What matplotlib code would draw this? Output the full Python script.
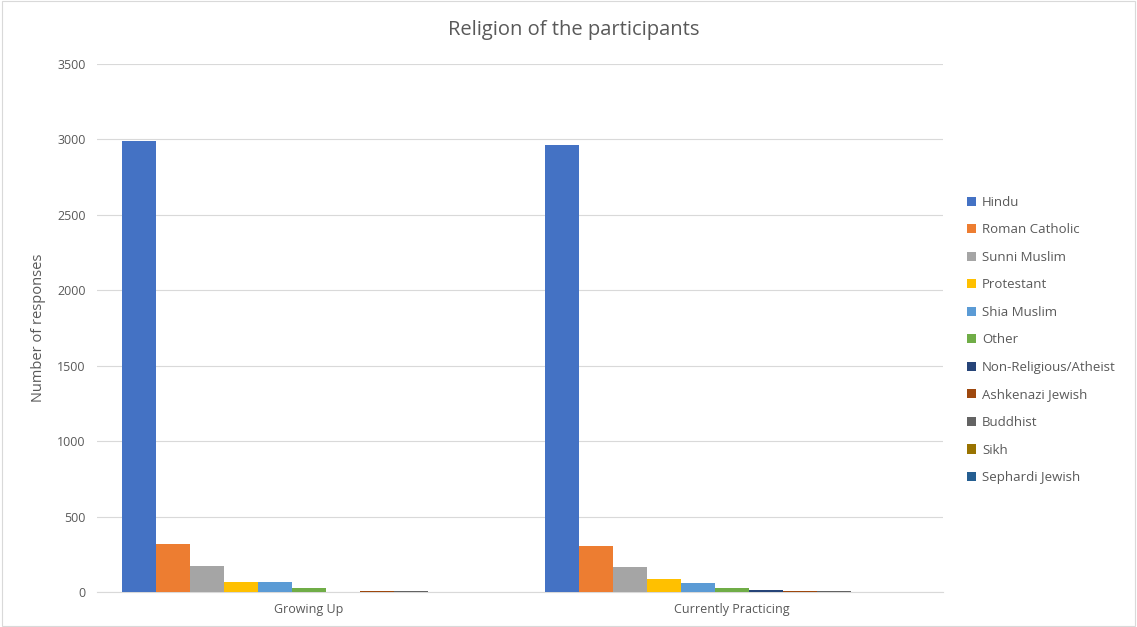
import numpy as np
import matplotlib.pyplot as plt
from matplotlib.patches import Rectangle

# data
groups = ['Growing Up', 'Currently Practicing']
religions = ['Hindu', 'Roman Catholic', 'Sunni Muslim', 'Protestant', 'Shia Muslim', 'Other',
             'Non-Religious/Atheist', 'Ashkenazi Jewish', 'Buddhist', 'Sikh', 'Sephardi Jewish']
growing_up = [2990, 318, 170, 64, 63, 25, 0, 4, 4, 1, 0]
currently = [2965, 305, 166, 84, 62, 25, 16, 4, 4, 1, 0]
colors = ['#4472C4', '#ED7D31', '#A5A5A5', '#FFC000', '#5B9BD5', '#70AD47',
          '#264478', '#9E480E', '#636363', '#997300', '#255E91']

plt.rcParams['font.family'] = ['Open Sans', 'DejaVu Sans']
txt = '#595959'

fig = plt.figure(figsize=(11.37, 6.27), dpi=100)
ax = fig.add_axes([97/1137, 1-592/627, (943-97)/1137, (592-64)/627])

values = np.array([growing_up, currently])
n = len(religions)
bw = 374/423/n
x = np.arange(len(groups))
for i, r in enumerate(religions):
    ax.bar(x - 374/423/2 + bw*(i+0.5), values[:, i], bw, color=colors[i], label=r, zorder=3)

ax.set_xlim(-0.5, 1.5)
ax.set_ylim(0, 3500)
ax.set_yticks(np.arange(0, 3501, 500))
ax.set_xticks(x)
ax.set_xticklabels(groups)
ax.grid(axis='y', color='#D9D9D9', linewidth=0.8, zorder=0)
for s in ['top', 'right', 'left']:
    ax.spines[s].set_visible(False)
ax.spines['bottom'].set_color('#D9D9D9')
ax.tick_params(axis='both', length=0, labelsize=9, colors=txt, pad=8)
ax.set_ylabel('Number of responses', fontsize=10.5, color=txt, labelpad=8)
fig.text(574/1137, 1-30/627, 'Religion of the participants', ha='center', va='center',
         fontsize=14.5, color=txt)

handles, labels = ax.get_legend_handles_labels()
fig.legend(handles, labels, loc='upper left', bbox_to_anchor=(955/1137, 1-184/627),
           frameon=False, fontsize=9.5, labelcolor=txt, handlelength=0.7, handleheight=0.7,
           handletextpad=0.45, labelspacing=1.1)

fig.patches.append(Rectangle((0.002, 0.002), 0.996, 0.996, transform=fig.transFigure,
                             fill=False, edgecolor='#D9D9D9', linewidth=0.8))

fig.savefig('out.png', dpi=100)
